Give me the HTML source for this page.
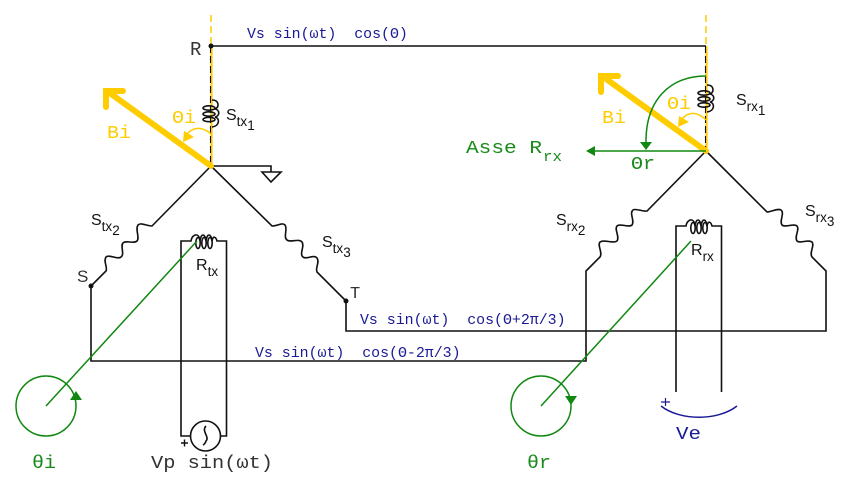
<!DOCTYPE html>
<html>
<head>
<meta charset="utf-8">
<style>
html,body{margin:0;padding:0;background:#fff;width:848px;height:488px;overflow:hidden}
svg{display:block}
.s{font-family:"Liberation Sans",sans-serif;font-size:16px;fill:#111}
.m{font-family:"Liberation Mono",monospace;white-space:pre}
.n{font-size:14.9px;fill:#1a1a96}
.y{font-size:18px;fill:#ffcc00}
.g{font-size:18px;fill:#1a8a1a}
.b{font-size:18px;fill:#333}
</style>
</head>
<body>
<svg width="848" height="488" viewBox="0 0 848 488" xmlns="http://www.w3.org/2000/svg">
<g fill="none" stroke="#ffcc00">
<path d="M211,15V46" stroke-dasharray="7 4" stroke-width="1.500"/>
<path d="M706,15V46" stroke-dasharray="7 4" stroke-width="1.500"/>
<path d="M211.500,46V166" stroke-width="2.200"/>
<path d="M706.500,46V151" stroke-width="2.200"/>
</g>
<g fill="none" stroke="#111" stroke-width="1.600">
<path d="M211,46H706"/>
<path d="M210.500,46V166" stroke-dasharray="7 3" stroke-width="1.100"/>
<path d="M705.500,46V151" stroke-dasharray="7 3" stroke-width="1.100"/>
<path d="M211,166H271V172"/>
<path d="M262,172H281L271,182Z"/>
<path d="M211,166L152,226C146,226 141,222 138,225C135,229 140,238 137,241C134,244 126,240 123,243C120,246 125,254 121,257C118,260 109,254 106,257C103,261 108,268 106,271L91,286V361H586V271L600,257C603,253 597,245 600,242C604,239 613,244 617,241C620,237 614,229 617,226C620,223 629,228 632,225C635,221 629,213 633,210C636,208 643,212 647,211L706,151"/>
<path d="M211,166L272,226C278,226 282,222 285,225C288,229 283,237 287,240C290,243 299,238 302,242C305,246 299,254 303,257C306,260 314,254 317,258C320,262 315,268 317,272L346,301V331H826V271L812,257C809,253 815,245 812,242C808,239 800,244 797,241C794,237 800,229 797,226C794,223 785,228 782,225C779,221 785,213 781,210C778,208 771,212 767,212L706,151"/>
<!-- Rtx -->
<path d="M191,436H181V241H191C192,235 197,233 199,237C200,240 200,241 200,241C201,233 205,233 206,241C207,233 211,233 212,241C213,235 216,237 217,241H226.500V436H221"/>
<ellipse cx="198" cy="243" rx="2.200" ry="5.500"/>
<ellipse cx="204" cy="243" rx="2.200" ry="5.500"/>
<ellipse cx="210" cy="243" rx="2.200" ry="5.500"/>
<circle cx="205.500" cy="436" r="15"/>
<path d="M206,426C201,431 210,437 206,441C205,444 203,445 203,445"/>
<path d="M181,443H188M184.500,439.500V446.500" stroke-width="1.400"/>
<!-- Rrx -->
<path d="M676,392V226H686C687,220 692,218 694,222C695,225 695,226 695,226C696,218 700,218 701,226C702,218 706,218 707,226C708,220 711,222 712,226H721.500V392"/>
<ellipse cx="693" cy="228" rx="2.200" ry="5.500"/>
<ellipse cx="699" cy="228" rx="2.200" ry="5.500"/>
<ellipse cx="705" cy="228" rx="2.200" ry="5.500"/>
<!-- stator coils -->
<path d="M212,100C220,100 219,108 215,109C220,110 220,116 215,117C220,118 220,126 212,127"/>
<ellipse cx="209" cy="108" rx="6" ry="2.200"/>
<ellipse cx="209" cy="114" rx="6" ry="2.200"/>
<ellipse cx="209" cy="119.500" rx="6" ry="2.200"/>
<path d="M707,85C715,85 714,93 710,94C715,95 715,101 710,102C715,103 715,111 707,112"/>
<ellipse cx="704" cy="93" rx="6" ry="2.200"/>
<ellipse cx="704" cy="99" rx="6" ry="2.200"/>
<ellipse cx="704" cy="105" rx="6" ry="2.200"/>
</g>
<circle cx="211" cy="46" r="2.500" fill="#111"/>
<circle cx="91" cy="286" r="2.500" fill="#111"/>
<circle cx="346" cy="301" r="2.500" fill="#111"/>
<g fill="none" stroke="#ffcc00" stroke-width="1.500">
<path d="M212,135C205,128 195,125 187,134"/>
<path d="M706,120C699,113 690,110 682,119"/>
</g>
<path d="M183,142L184,131L194,137Z" fill="#ffcc00"/>
<path d="M678,127L679,116L689,122Z" fill="#ffcc00"/>
<g fill="none" stroke="#ffcc00" stroke-width="6" stroke-linecap="round">
<path d="M211,166L107,91M123,91H106V107"/>
<path d="M706,151L602,76M618,76H601V92"/>
</g>
<g fill="none" stroke="#118811" stroke-width="1.500">
<path d="M46,406L197,241"/>
<path d="M541,406L691,241"/>
<circle cx="46" cy="406" r="30"/>
<circle cx="541" cy="406" r="30"/>
<path d="M706,151H595"/>
<path d="M706,76C670,76 645,100 646,144"/>
</g>
<path d="M76,391L82,400H70Z" fill="#118811"/>
<path d="M571,405L565,396H577Z" fill="#118811"/>
<path d="M586,151L595,146V156Z" fill="#118811"/>
<path d="M640,142H652L646,150Z" fill="#118811"/>
<path d="M661,406C680,421 718,421 737,406" fill="none" stroke="#1a1a96" stroke-width="1.500"/>
<path d="M661,402H670M665.500,398V406" fill="none" stroke="#1a1a96" stroke-width="1.200"/>
<text class="m n" x="247" y="38" xml:space="preserve">Vs sin(ωt)  cos(Θ)</text>
<text class="m n" x="360" y="324" xml:space="preserve">Vs sin(ωt)  cos(Θ+2π/3)</text>
<text class="m n" x="255" y="357" xml:space="preserve">Vs sin(ωt)  cos(Θ-2π/3)</text>
<text class="m" x="190" y="55" font-size="19" fill="#333">R</text>
<text class="s" x="77" y="282" style="font-size:17px;fill:#333">S</text>
<text class="m" x="350" y="298" font-size="17" fill="#333">T</text>
<text class="s" x="226" y="120">S<tspan font-size="13.500" dy="6">tx</tspan><tspan font-size="13.500" dy="4">1</tspan></text>
<text class="s" x="91" y="225">S<tspan font-size="13.500" dy="6">tx</tspan><tspan font-size="13.500" dy="4">2</tspan></text>
<text class="s" x="322" y="247">S<tspan font-size="13.500" dy="6">tx</tspan><tspan font-size="13.500" dy="4">3</tspan></text>
<text class="s" x="736" y="105">S<tspan font-size="13.500" dy="6">rx</tspan><tspan font-size="13.500" dy="4">1</tspan></text>
<text class="s" x="556" y="225">S<tspan font-size="13.500" dy="6">rx</tspan><tspan font-size="13.500" dy="4">2</tspan></text>
<text class="s" x="805" y="216">S<tspan font-size="13.500" dy="6">rx</tspan><tspan font-size="13.500" dy="4">3</tspan></text>
<text class="s" x="196" y="270">R<tspan font-size="13.500" dy="6">tx</tspan></text>
<text class="s" x="691" y="255">R<tspan font-size="13.500" dy="6">rx</tspan></text>
<text class="m y" x="107" y="138" textLength="24" lengthAdjust="spacingAndGlyphs">Bi</text>
<text class="m y" x="602" y="123" textLength="24" lengthAdjust="spacingAndGlyphs">Bi</text>
<text class="m y" x="172" y="123" textLength="24" lengthAdjust="spacingAndGlyphs">Θi</text>
<text class="m y" x="667" y="109" textLength="24" lengthAdjust="spacingAndGlyphs">Θi</text>
<text class="m g" x="466" y="153" textLength="76" lengthAdjust="spacingAndGlyphs">Asse R</text>
<text class="m g" x="543" y="161" font-size="15" style="font-size:15px" textLength="19" lengthAdjust="spacingAndGlyphs">rx</text>
<text class="m g" x="631" y="169" textLength="24" lengthAdjust="spacingAndGlyphs">Θr</text>
<text class="m g" x="32" y="468" textLength="24" lengthAdjust="spacingAndGlyphs">θi</text>
<text class="m g" x="527" y="468" textLength="24" lengthAdjust="spacingAndGlyphs">θr</text>
<text class="m b" x="151" y="468" textLength="122" lengthAdjust="spacingAndGlyphs">Vp sin(ωt)</text>
<text class="m" x="676" y="439" font-size="18" fill="#1a1a96" textLength="25" lengthAdjust="spacingAndGlyphs">Ve</text>
</svg>
</body>
</html>
